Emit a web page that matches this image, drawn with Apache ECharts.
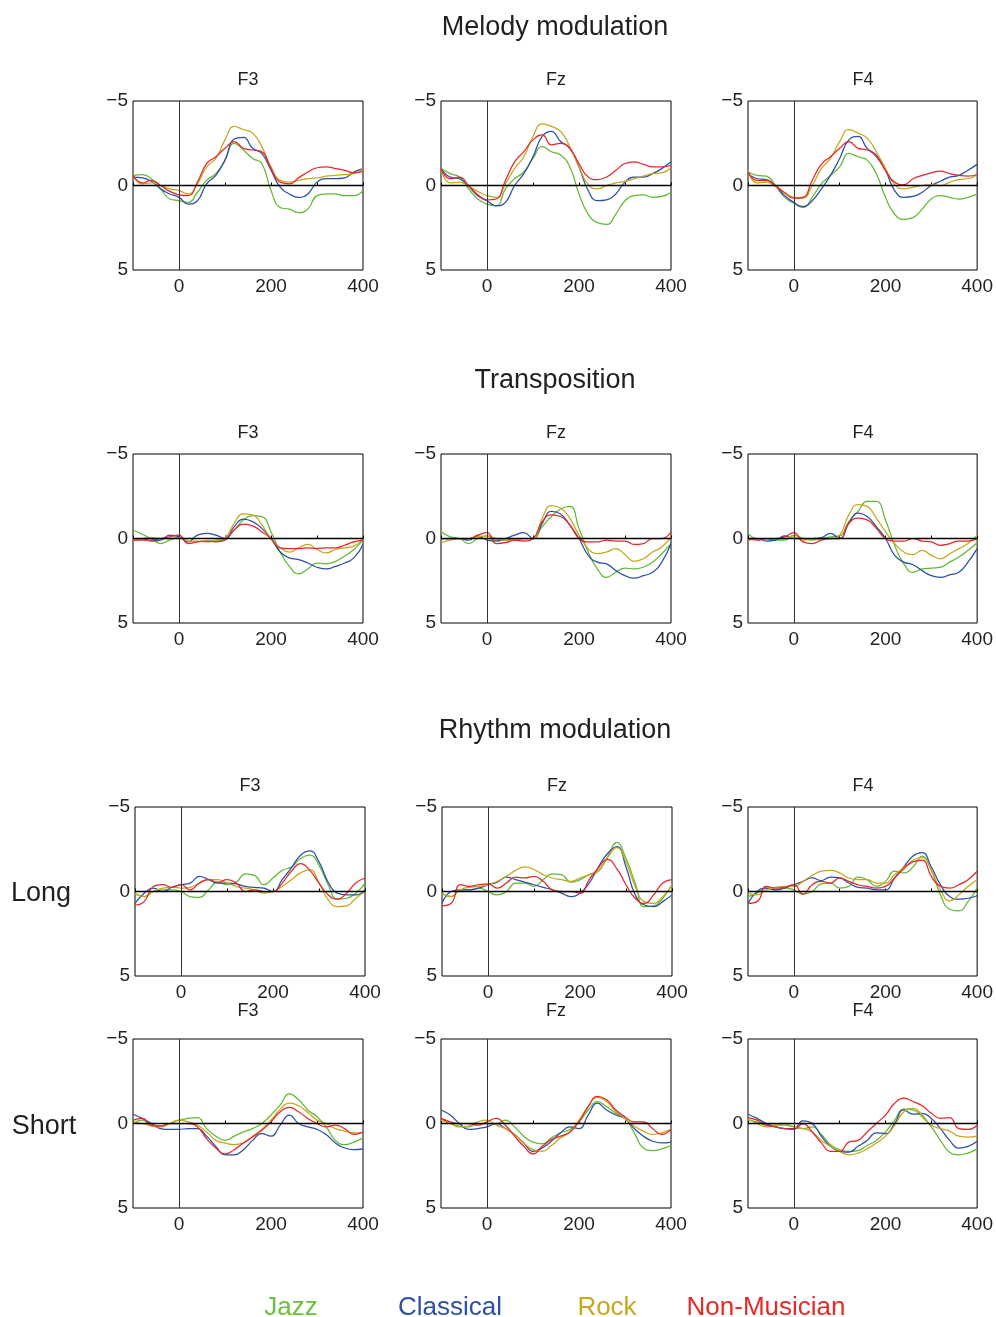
<!DOCTYPE html>
<html><head><meta charset="utf-8">
<script src="https://cdn.jsdelivr.net/npm/echarts@6/dist/echarts.min.js"></script>
<style>html,body{margin:0;padding:0;background:#fff}#c{width:996px;height:1317px}</style>
</head><body><div id="c"></div><script>
// time points (ms)
const times = [-100,-80,-60,-40,-20,0,20,40,60,80,100,120,140,160,180,200,220,240,260,280,300,320,340,360,380,400];
const groups = ['Jazz','Classical','Rock','Non-Musician'];
const electrodes = ['F3','Fz','F4'];
const sections = ['Melody modulation','Transposition','Rhythm modulation'];
const rowLabels = ['Long','Short'];
const yTicks = [-5,0,5];
const xTickLabels = [0,200,400];

// Melody modulation
const mel_F3_jazz = [-0.6,-0.65,-0.4,0.2,0.8,0.9,1.0,0.4,-0.3,-0.7,-1.5,-2.5,-2.1,-1.6,-1.3,0.3,1.3,1.4,1.6,1.4,0.6,0.5,0.5,0.6,0.6,0.3];
const mel_F3_classical = [-0.5,-0.45,-0.25,0.2,0.5,0.7,1.1,0.9,-0.1,-0.6,-1.5,-2.75,-2.85,-2.2,-1.9,-0.9,0.1,0.5,0.7,0.5,-0.2,-0.4,-0.4,-0.45,-0.8,-1.0];
const mel_F3_rock = [-0.6,-0.1,-0.15,0,0.2,0.3,0.5,-0.1,-1.1,-1.6,-2.7,-3.5,-3.3,-3.1,-2.3,-1.1,-0.3,-0.2,-0.3,-0.4,-0.45,-0.55,-0.6,-0.65,-0.7,-1.0];
const mel_F3_nonmus = [-0.6,-0.15,-0.3,0,0.35,0.55,0.6,-0.2,-1.3,-1.7,-2.2,-2.6,-2.2,-2.1,-2.0,-1.0,-0.2,-0.1,-0.45,-0.8,-1.05,-1.1,-1.0,-0.9,-0.75,-0.85];

const mel_Fz_jazz = [-1.0,-0.7,-0.5,0.2,0.8,1.1,1.2,0.2,-0.4,-0.8,-1.6,-2.3,-2.0,-1.8,-1.1,0.5,1.7,2.2,2.3,1.7,0.9,0.6,0.55,0.7,0.65,0.4];
const mel_Fz_classical = [-1.0,-0.5,-0.4,0.05,0.6,0.9,1.2,1.0,0,-0.7,-1.7,-2.9,-3.2,-2.6,-2.2,-1.1,0.3,0.9,0.85,0.5,-0.2,-0.5,-0.5,-0.7,-1.0,-1.4];
const mel_Fz_rock = [-1.0,-0.15,-0.2,0.05,0.35,0.6,0.7,-0.1,-1.0,-1.7,-2.9,-3.65,-3.5,-3.2,-2.3,-1.1,-0.05,0.2,0,-0.15,-0.25,-0.4,-0.55,-0.7,-0.75,-1.05];
const mel_Fz_nonmus = [-1.0,-0.4,-0.5,0,0.55,0.85,0.8,-0.3,-1.4,-2.0,-2.7,-3.0,-2.4,-2.5,-2.2,-1.3,-0.5,-0.35,-0.5,-0.9,-1.3,-1.4,-1.25,-1.1,-1.1,-1.2];

const mel_F4_jazz = [-0.8,-0.6,-0.55,0,0.7,1.05,1.3,0.7,-0.1,-0.6,-1.1,-1.9,-1.7,-1.5,-0.7,0.7,1.7,2.0,1.9,1.4,0.8,0.6,0.7,0.8,0.7,0.5];
const mel_F4_classical = [-0.7,-0.4,-0.35,0.05,0.6,1.0,1.25,0.9,0.2,-0.6,-1.6,-2.7,-2.9,-2.2,-1.8,-0.9,0.3,0.7,0.65,0.4,0,-0.25,-0.5,-0.6,-0.9,-1.25];
const mel_F4_rock = [-0.9,-0.15,-0.2,0.05,0.4,0.7,0.75,0,-1.0,-1.6,-2.6,-3.3,-3.1,-2.8,-2.0,-1.0,-0.05,0.2,0.1,0,-0.05,0,-0.2,-0.35,-0.4,-0.65];
const mel_F4_nonmus = [-0.8,-0.3,-0.3,0,0.45,0.75,0.7,-0.3,-1.25,-1.7,-2.2,-2.6,-2.2,-2.1,-1.7,-0.9,-0.2,-0.05,-0.4,-0.6,-0.75,-0.85,-0.7,-0.6,-0.55,-0.65];

// Transposition
const tra_F3_jazz = [-0.5,-0.25,0,0.3,0.1,-0.05,0.15,0.2,0.15,0.15,0,-0.5,-1.1,-1.35,-1.3,-0.4,0.8,1.65,2.1,1.8,1.45,1.5,1.35,1.05,0.65,0.1];
const tra_F3_classical = [0,0,0.15,0.1,-0.2,-0.1,0.2,-0.2,-0.3,-0.2,0,-0.7,-1.15,-1.0,-0.6,0,0.8,1.15,1.25,1.45,1.7,1.8,1.65,1.45,1.15,0.35];
const tra_F3_rock = [0.15,0,-0.05,0,0,-0.05,0.15,0.15,0.2,0.1,-0.05,-0.9,-1.45,-1.4,-0.8,0,0.55,0.8,0.55,0.35,0.65,0.85,0.65,0.55,0.45,0];
const tra_F3_nonmus = [0.1,0.1,0.1,0,-0.1,-0.2,0.3,0.2,0.15,0.2,0.1,-0.5,-0.85,-0.75,-0.4,0,0.55,0.6,0.6,0.55,0.6,0.55,0.55,0.4,0.2,0.1];

const tra_Fz_jazz = [-0.4,-0.1,0,0.3,0,-0.15,0.1,0.1,0,0,0,-0.7,-1.3,-1.75,-1.9,-0.6,0.8,1.8,2.3,2.0,1.75,1.8,1.7,1.4,0.9,0.3];
const tra_Fz_classical = [0,0,0,0.1,-0.15,0.1,0.15,0,-0.2,-0.35,0,-0.9,-1.6,-1.45,-0.8,0,1.0,1.4,1.5,1.9,2.2,2.35,2.2,2.0,1.4,0.3];
const tra_Fz_rock = [0.25,0.1,0,0,-0.1,-0.15,0,0.1,0.1,0,0,-1.2,-1.95,-1.8,-1.2,-0.2,0.6,0.9,0.8,0.6,0.95,1.35,1.2,0.8,0.5,-0.1];
const tra_Fz_nonmus = [0,0,0,0,-0.2,-0.35,0.3,0.25,0.1,0.15,0,-1.0,-1.4,-1.3,-0.8,0,0.2,0.2,0.1,0.15,0.15,0.35,0.3,0,0,-0.4];

const tra_F4_jazz = [-0.3,0,0,0.1,0.1,-0.2,0,0.1,0,-0.1,-0.15,-1.0,-1.6,-2.2,-2.2,-1.1,0.4,1.5,2.0,1.8,1.75,1.7,1.4,1.1,0.7,0.25];
const tra_F4_classical = [0,0,0.15,0.1,-0.15,0,0,0,-0.05,-0.3,0,-0.9,-1.5,-1.3,-0.7,0,1.0,1.4,1.55,1.9,2.2,2.3,2.15,2.0,1.4,0.6];
const tra_F4_rock = [0.15,0,0,0,0,-0.1,0.1,0,0,0,-0.2,-1.4,-2.0,-1.9,-1.2,-0.4,0.3,0.8,0.95,0.7,1.0,1.2,0.9,0.6,0.3,-0.2];
const tra_F4_nonmus = [0,0.1,0,0,-0.1,-0.35,0.2,0.3,0.1,0,0,-0.9,-1.2,-1.1,-0.6,0,0.15,0.15,0,0.15,0.2,0.4,0.3,0.15,0.15,0];

// Rhythm modulation - Long
const lon_F3_jazz = [0.1,0.3,0,-0.1,-0.1,0,0.3,0.35,-0.1,-0.55,-0.4,-0.55,-1.05,-0.95,-0.4,-0.8,-1.25,-1.45,-1.95,-2.15,-1.55,-0.4,0.45,0.4,0.1,-0.5];
const lon_F3_classical = [0.7,0.1,-0.2,0,-0.25,-0.4,-0.5,-0.9,-0.7,-0.5,-0.5,-0.45,-0.3,-0.25,-0.2,0,-0.7,-1.4,-2.15,-2.4,-1.75,-0.55,0.1,0.2,0.2,-0.1];
const lon_F3_rock = [0.15,0.3,0,-0.2,-0.25,-0.2,-0.25,-0.5,-0.7,-0.7,-0.5,-0.3,-0.2,-0.1,0.1,0,-0.3,-0.7,-1.1,-1.3,-0.5,0.5,0.9,0.85,0.4,0];
const lon_F3_nonmus = [0.8,0.6,-0.3,-0.4,-0.25,-0.4,-0.1,-0.5,-0.7,-0.55,-0.7,-0.5,0,-0.1,0,0,-0.5,-1.2,-1.65,-1.25,-0.5,0.2,0.45,0.1,-0.5,-0.8];

const lon_Fz_jazz = [0.1,0.3,-0.1,-0.1,-0.2,0,0.2,0,-0.5,-0.5,-0.3,-0.7,-1.05,-1.0,-0.55,-0.7,-1.0,-1.2,-2.05,-2.9,-1.95,-0.5,0.9,0.85,0.4,-0.4];
const lon_Fz_classical = [0.7,0,-0.1,-0.1,-0.2,-0.4,-0.55,-0.85,-0.7,-0.55,-0.4,-0.25,-0.1,0.1,0.3,0.1,-0.5,-1.45,-2.25,-2.65,-1.45,0.2,0.8,0.9,0.6,0.2];
const lon_Fz_rock = [0.15,0.3,-0.1,-0.25,-0.3,-0.4,-0.6,-0.9,-1.25,-1.45,-1.3,-1.0,-0.8,-0.7,-0.6,-0.8,-1.0,-1.25,-2.0,-2.6,-1.75,-0.3,0.6,0.7,0.3,-0.4];
const lon_Fz_nonmus = [0.85,0.7,-0.4,-0.3,-0.4,-0.45,-0.2,-0.5,-0.85,-0.8,-0.9,-0.6,-0.1,0,0,0.1,-0.7,-1.4,-1.9,-1.35,-0.4,0.4,0.7,0.2,-0.5,-0.7];

const lon_F4_jazz = [0.3,0.1,-0.2,-0.1,-0.2,-0.1,0.15,0,-0.45,-0.5,-0.2,-0.3,-0.85,-0.7,-0.3,-0.6,-1.2,-1.1,-1.45,-2.1,-1.25,0.2,1.05,1.15,0.6,-0.2];
const lon_F4_classical = [0.7,0,-0.2,-0.1,-0.2,-0.4,-0.6,-0.8,-0.65,-0.85,-0.8,-0.5,-0.25,-0.2,-0.1,-0.1,-0.8,-1.45,-2.1,-2.3,-1.45,-0.4,0.3,0.45,0.4,0.25];
const lon_F4_rock = [0.1,0.2,-0.1,-0.25,-0.3,-0.3,-0.6,-0.95,-1.2,-1.25,-1.1,-0.8,-0.7,-0.7,-0.5,-0.5,-1.0,-1.4,-1.85,-2.0,-1.25,-0.1,0.55,0.2,-0.3,-0.7];
const lon_F4_nonmus = [0.7,0.6,-0.3,-0.2,-0.25,-0.4,0.15,-0.4,-0.6,-0.5,-0.8,-0.6,-0.4,-0.3,-0.2,-0.3,-0.8,-1.35,-1.75,-1.85,-0.9,-0.3,-0.2,-0.4,-0.7,-1.2];

// Rhythm modulation - Short
const sho_F3_jazz = [0,-0.2,0.1,0.15,0,-0.2,-0.3,-0.35,0.3,0.75,1.0,0.75,0.5,0.3,0,-0.5,-1.1,-1.75,-1.4,-0.8,-0.4,0.2,1.0,1.25,1.1,0.85];
const sho_F3_classical = [-0.55,-0.3,0,0.3,0.35,0.35,0.3,0.3,0.75,1.35,1.85,1.85,1.55,1.0,0.6,0.75,0.1,-0.5,0,0.2,0.35,0.65,1.15,1.45,1.55,1.5];
const sho_F3_rock = [-0.1,0,0.15,0.2,0,-0.2,-0.1,0.1,0.5,1.0,1.15,1.25,1.15,0.75,0.35,-0.2,-0.85,-1.2,-1.05,-0.65,-0.2,0,0.3,0.45,0.55,0.55];
const sho_F3_nonmus = [-0.2,-0.3,0.1,0.15,0,0,0,0.2,0.9,1.45,1.8,1.55,1.15,0.8,0.4,-0.1,-0.7,-0.95,-0.7,-0.3,0,0.2,0.1,0.3,0.65,0.5];

const sho_Fz_jazz = [-0.3,0,0.15,0.2,0,0,0,-0.2,0.2,0.75,1.1,1.2,0.85,0.55,0.35,-0.1,-0.8,-1.3,-1.0,-0.6,-0.3,0.55,1.45,1.6,1.5,1.3];
const sho_Fz_classical = [-0.8,-0.5,0,0.35,0.3,0.2,0,0.3,0.65,1.15,1.65,1.45,1.05,0.55,0.2,0.3,-0.5,-1.2,-0.8,-0.5,-0.3,0.3,0.75,1.05,1.15,1.1];
const sho_Fz_rock = [-0.2,0,0.2,0.15,-0.1,-0.2,0.1,0.3,0.65,1.15,1.55,1.65,1.3,0.85,0.5,-0.2,-1.0,-1.55,-1.3,-0.7,-0.3,0.15,0.45,0.65,0.55,0.35];
const sho_Fz_nonmus = [-0.3,-0.1,0,0,0.1,-0.1,-0.3,0.1,0.75,1.35,1.8,1.35,0.95,0.75,0.5,-0.1,-1.0,-1.6,-1.4,-0.8,-0.4,-0.1,-0.1,0.3,0.65,0.35];

const sho_F4_jazz = [-0.2,-0.1,0.1,0.1,0.1,0.2,0.3,0.2,0.65,1.25,1.55,1.65,1.6,1.3,1.0,0.5,-0.2,-0.85,-0.8,-0.4,0.2,1.0,1.7,1.85,1.75,1.5];
const sho_F4_classical = [-0.55,-0.3,0,0.2,0.3,0.3,-0.15,0,0.75,1.35,1.65,1.7,1.35,1.0,0.55,0.6,0,-0.8,-0.55,-0.6,-0.3,0.3,1.0,1.45,1.35,1.05];
const sho_F4_rock = [-0.3,0,0.2,0.1,0,0.2,0.3,0.5,1.0,1.35,1.65,1.85,1.75,1.5,1.15,0.75,0.1,-0.7,-0.9,-0.5,0.1,0.3,0.45,0.75,0.8,0.75];
const sho_F4_nonmus = [-0.35,-0.2,0.1,0.2,0.3,0.35,0,0.5,1.15,1.65,1.65,1.1,1.0,0.5,0,-0.5,-1.2,-1.5,-1.3,-1.05,-0.6,-0.3,-0.35,0.3,0.35,0.1];

// ---- assembly ----
const panels = [
  [mel_F3_jazz, mel_F3_classical, mel_F3_rock, mel_F3_nonmus],
  [mel_Fz_jazz, mel_Fz_classical, mel_Fz_rock, mel_Fz_nonmus],
  [mel_F4_jazz, mel_F4_classical, mel_F4_rock, mel_F4_nonmus],
  [tra_F3_jazz, tra_F3_classical, tra_F3_rock, tra_F3_nonmus],
  [tra_Fz_jazz, tra_Fz_classical, tra_Fz_rock, tra_Fz_nonmus],
  [tra_F4_jazz, tra_F4_classical, tra_F4_rock, tra_F4_nonmus],
  [lon_F3_jazz, lon_F3_classical, lon_F3_rock, lon_F3_nonmus],
  [lon_Fz_jazz, lon_Fz_classical, lon_Fz_rock, lon_Fz_nonmus],
  [lon_F4_jazz, lon_F4_classical, lon_F4_rock, lon_F4_nonmus],
  [sho_F3_jazz, sho_F3_classical, sho_F3_rock, sho_F3_nonmus],
  [sho_Fz_jazz, sho_Fz_classical, sho_Fz_rock, sho_Fz_nonmus],
  [sho_F4_jazz, sho_F4_classical, sho_F4_rock, sho_F4_nonmus]
];

const colors = ['#5fba34', '#2b4ea6', '#c8a61c', '#e8262a'];
const legendColors = ['#6cc03e', '#2f4fa3', '#c9a81e', '#e62a28'];
const FONT = "'Liberation Sans', Arial, Helvetica, sans-serif";
const TXT = '#231f20';

const rowTops = [101, 454, 807, 1039];
const colLefts = [[133, 441, 748], [133, 441, 748], [135, 442, 748], [133, 441, 748]];
const PW = 230, PH = 169;
const titleY = [80, 433, 786, 1011];

const grid = [], xAxis = [], yAxis = [], series = [], graphic = [];

panels.forEach((p, i) => {
  const r = Math.floor(i / 3), c = i % 3;
  const left = colLefts[r][c], top = rowTops[r];
  grid.push({left, top, width: PW, height: PH, show: true, borderColor: '#000', borderWidth: 1, backgroundColor: 'transparent'});
  xAxis.push({
    type: 'value', gridIndex: i, min: -100, max: 400, interval: 100,
    axisLine: {show: false},
    axisTick: {show: true, inside: true, length: 3, lineStyle: {color: '#000'}},
    splitLine: {show: false},
    axisLabel: {fontSize: 19, color: TXT, fontFamily: FONT, margin: 7,
      formatter: v => xTickLabels.includes(v) ? String(v) : ''}
  });
  yAxis.push({
    type: 'value', gridIndex: i, inverse: true, min: -5, max: 5, interval: 5,
    axisLine: {show: false}, axisTick: {show: false}, splitLine: {show: false},
    axisLabel: {fontSize: 19, color: TXT, fontFamily: FONT, margin: 5,
      formatter: v => yTicks.includes(v) ? (v < 0 ? '\u2212' + Math.abs(v) : String(v)) : ''}
  });
  // zero reference lines
  series.push({
    type: 'line', xAxisIndex: i, yAxisIndex: i, data: [[0, 0]], showSymbol: false,
    lineStyle: {opacity: 0}, silent: true, z: 1,
    markLine: {silent: true, symbol: 'none', label: {show: false}, animation: false,
      data: [
        {yAxis: 0, lineStyle: {color: '#000', width: 1.4, type: 'solid'}},
        {xAxis: 0, lineStyle: {color: '#333', width: 1, type: 'solid'}}
      ]}
  });
  p.forEach((vals, g) => {
    series.push({
      type: 'line', name: groups[g], xAxisIndex: i, yAxisIndex: i,
      data: times.map((t, k) => [t, vals[k]]),
      showSymbol: false, smooth: 0.5, z: 2,
      lineStyle: {color: colors[g], width: 1.25},
      itemStyle: {color: colors[g]}
    });
  });
  graphic.push({type: 'text', x: left + PW / 2, y: titleY[r],
    style: {text: electrodes[c], fontSize: 18, fill: TXT, fontFamily: FONT, textAlign: 'center', textVerticalAlign: 'middle'}});
});

const sectionY = [28, 381, 731];
sections.forEach((s, k) => graphic.push({type: 'text', x: 555, y: sectionY[k],
  style: {text: s, fontSize: 27, fill: TXT, fontFamily: FONT, textAlign: 'center', textVerticalAlign: 'middle'}}));

const rowLabelPos = [[41, 894], [44, 1127]];
rowLabels.forEach((s, k) => graphic.push({type: 'text', x: rowLabelPos[k][0], y: rowLabelPos[k][1],
  style: {text: s, fontSize: 27, fill: TXT, fontFamily: FONT, textAlign: 'center', textVerticalAlign: 'middle'}}));

const legendX = [291, 450, 607, 766];
groups.forEach((s, k) => graphic.push({type: 'text', x: legendX[k], y: 1308,
  style: {text: s, fontSize: 26, fill: legendColors[k], fontFamily: FONT, textAlign: 'center', textVerticalAlign: 'middle'}}));

const chart = echarts.init(document.getElementById('c'), null, {renderer: 'canvas'});
chart.setOption({animation: false, backgroundColor: '#fff', grid, xAxis, yAxis, series, graphic});
</script></body></html>
